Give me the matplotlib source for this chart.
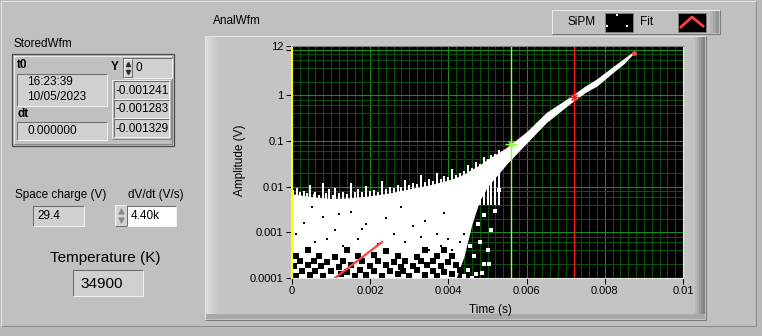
import matplotlib
matplotlib.use("Agg")
import matplotlib.pyplot as plt
from matplotlib.patches import Rectangle
from matplotlib.ticker import FixedLocator, LogLocator, MultipleLocator, NullFormatter

plt.rcParams["font.family"] = ["Liberation Sans", "DejaVu Sans"]
plt.rcParams["font.size"] = 8.5

W, H = 762, 336

# ---- values ----
x_ticks = [0, 0.002, 0.004, 0.006, 0.008, 0.01]
x_tick_labels = ["0", "0.002", "0.004", "0.006", "0.008", "0.01"]
y_ticks = [0.0001, 0.001, 0.01, 0.1, 1, 10, 12]
y_tick_labels = ["0.0001", "0.001", "0.01", "0.1", "1", "", "12"]

# envelope of the dense SiPM point cloud (time in s, amplitude in V)
cloud_t = [0, 0.0005, 0.001, 0.0015, 0.002, 0.0025, 0.003, 0.0035, 0.004, 0.0042,
           0.0044, 0.0046, 0.0048, 0.005, 0.0055, 0.006, 0.0065, 0.007, 0.0072,
           0.0075, 0.0078, 0.0082, 0.0085, 0.00872]
cloud_lo = [0.0001, 0.0001, 0.0001, 0.0001, 0.0001, 0.0001, 0.0001, 0.0001, 0.0001, 0.0001,
            0.0003, 0.0015, 0.005, 0.010, 0.032, 0.09, 0.25, 0.55, 0.75,
            1.15, 1.6, 3.1, 5.0, 8.0]
cloud_hi = [0.0070, 0.0060, 0.0055, 0.0057, 0.0063, 0.0073, 0.0090, 0.0108, 0.014, 0.016,
            0.019, 0.024, 0.030, 0.040, 0.072, 0.16, 0.42, 0.80, 1.05,
            1.6, 2.3, 4.2, 6.5, 8.9]

# vertical spikes sticking out of the top of the cloud
spike_t = [0.00002, 0.00012, 0.0002, 0.0003, 0.00038, 0.00045, 0.00055, 0.0006, 0.0007,
           0.0008, 0.00088, 0.00095, 0.00105, 0.0011, 0.0012, 0.0013, 0.0014, 0.0015,
           0.0016, 0.0017, 0.0018, 0.0019, 0.002, 0.0021, 0.0022, 0.0023, 0.0024,
           0.0025, 0.0026, 0.0027, 0.0028, 0.0029, 0.003, 0.0031, 0.0032, 0.0033,
           0.0034, 0.0035, 0.0036, 0.0037, 0.0038, 0.0039, 0.004, 0.0041, 0.0042,
           0.0043, 0.0044, 0.0045, 0.0046, 0.0047, 0.0048, 0.0049, 0.005, 0.0051,
           0.0052, 0.0053]
spike_top = [0.0085, 0.0095, 0.0075, 0.008, 0.0072, 0.011, 0.007, 0.0078, 0.0066,
             0.012, 0.0072, 0.0088, 0.0066, 0.0095, 0.0072, 0.0078, 0.007, 0.012,
             0.0076, 0.009, 0.0078, 0.0105, 0.008, 0.0083, 0.0076, 0.013, 0.0088,
             0.0098, 0.0092, 0.011, 0.0096, 0.014, 0.0108, 0.012, 0.0115, 0.018,
             0.0128, 0.015, 0.0135, 0.020, 0.0148, 0.017, 0.016, 0.024, 0.018,
             0.020, 0.022, 0.030, 0.026, 0.034, 0.031, 0.045, 0.040, 0.050,
             0.052, 0.065]

# gaps in the cloud near the bottom (large) and in the middle (small)
hole_t = [0.0001, 0.00045, 0.0008, 0.00125, 0.0016, 0.0019, 0.0023, 0.0027, 0.003, 0.0034,
          0.0037, 0.0041,
          0.00025, 0.0006, 0.001, 0.0014, 0.00175, 0.0021, 0.0025, 0.00285, 0.0032,
          0.0036, 0.0039, 0.0043,
          0.00005, 0.0004, 0.00075, 0.0012, 0.0015, 0.002, 0.0024, 0.0028, 0.0031,
          0.00345, 0.0038, 0.0042,
          0.0002, 0.00055, 0.0009, 0.0013, 0.0018, 0.0022, 0.0026, 0.0029, 0.0033,
          0.0036, 0.004,
          0.0001, 0.0007, 0.0011, 0.0017, 0.0021, 0.0027, 0.0032, 0.0037, 0.0041,
          0.0004, 0.0014, 0.0024, 0.0034, 0.0039]
hole_amp = [0.00011, 0.000115, 0.00011, 0.00012, 0.00011, 0.000115, 0.00011, 0.00012,
            0.00011, 0.000115, 0.00011, 0.00012,
            0.00014, 0.000145, 0.00014, 0.000135, 0.00015, 0.00014, 0.000145, 0.00014,
            0.00015, 0.00014, 0.000135, 0.00015,
            0.00018, 0.00019, 0.00018, 0.000175, 0.00019, 0.00018, 0.00019, 0.000175,
            0.00018, 0.00019, 0.00018, 0.00019,
            0.00023, 0.00024, 0.00022, 0.00023, 0.00024, 0.00023, 0.00022, 0.00024,
            0.00023, 0.00024, 0.00022,
            0.0003, 0.00031, 0.00029, 0.0003, 0.00032, 0.0003, 0.00029, 0.00031, 0.0003,
            0.0004, 0.00042, 0.00039, 0.00041, 0.0004]
speck_t = [0.0001, 0.0003, 0.0006, 0.0008, 0.0011, 0.0013, 0.0015, 0.0017, 0.0019,
           0.0022, 0.0024, 0.0026, 0.0029, 0.0031, 0.0033, 0.0035, 0.0037, 0.0038,
           0.0040, 0.0041, 0.0043, 0.0044, 0.0005, 0.0009, 0.0012, 0.0018, 0.0028,
           0.0034, 0.0039]
speck_amp = [0.0009, 0.0016, 0.0006, 0.0022, 0.0011, 0.0005, 0.0028, 0.0007, 0.0015,
             0.00055, 0.0021, 0.0009, 0.0006, 0.0014, 0.0008, 0.0004, 0.0009, 0.0005,
             0.0007, 0.0004, 0.0006, 0.0009, 0.0035, 0.0007, 0.0025, 0.0012, 0.0035,
             0.0018, 0.0026]

# isolated points right of the cloud
stray_t = [0.0045, 0.00465, 0.0047, 0.0048, 0.0049, 0.0051, 0.0050, 0.0052, 0.0053,
           0.00475, 0.00455, 0.0046, 0.00485, 0.0044, 0.0049, 0.00505]
stray_amp = [0.00015, 0.0003, 0.00012, 0.0006, 0.0002, 0.0011, 0.0004, 0.003, 0.0085,
             0.0015, 0.0005, 0.0001, 0.00013, 0.00011, 0.0024, 0.0002]

# exponential fit (straight on the log axis)
fit_t = [0.0011, 0.0023, 0.00874]
fit_amp = [0.0001, 0.00061, 8.4]

# graph cursors
cursor_t = [0.00559, 0.00721]
cursor_amp = [0.086, 0.94]
cursor_colors = ["#8cff4a", "#ff1a1a"]

stored_time = ["16:23:39", "10/05/2023"]
stored_dt = "0.000000"
stored_index = "0"
stored_y = ["-0.001241", "-0.001283", "-0.001329"]
space_charge = "29.4"
dvdt = "4.40k"
temperature = "34900"

PANEL = "#c0c0c0"
INNER = "#c4c4c4"
BOX = "#d0d0d0"
MAJOR = "#1c8c1c"
MINOR = "#0c4e0c"
FIT_RED = "#ff4040"


def bevel(ax, x0, y0, x1, y1, face, raised=True, light="#f2f2f2", dark="#6e6e6e", lw=0.75):
    ax.add_patch(Rectangle((x0, y0), x1 - x0, y1 - y0, facecolor=face, edgecolor="none"))
    tl, br = (light, dark) if raised else (dark, light)
    ax.plot([x0, x0, x1], [y1, y0, y0], color=tl, lw=lw, solid_capstyle="butt")
    ax.plot([x0, x1, x1], [y1, y1, y0], color=br, lw=lw, solid_capstyle="butt")


fig = plt.figure(figsize=(W / 100, H / 100), dpi=100)
fig.patch.set_facecolor("#b9b9b9")

bg = fig.add_axes([0, 0, 1, 1])
bg.set_xlim(0, W)
bg.set_ylim(H, 0)
bg.axis("off")

# front panel
bevel(bg, 1, 1, 756, 326, PANEL, light="#e6e6e6", dark="#8a8a8a")

# ---- StoredWfm cluster ----
bg.text(13, 44, "StoredWfm", va="center")
bg.add_patch(Rectangle((12, 54), 162, 92, facecolor=PANEL, edgecolor="#4a4a4a", lw=0.9))
bevel(bg, 14, 56, 172, 144, PANEL, light="#ececec", dark="#8a8a8a")
bg.text(17, 65, "t0", weight="bold", va="center")
bevel(bg, 17, 74, 107, 106, BOX, raised=False)
bg.text(27, 82, stored_time[0], va="center")
bg.text(27, 97, stored_time[1], va="center")
bg.text(17, 114, "dt", weight="bold", va="center")
bevel(bg, 17, 122, 107, 140, BOX, raised=False)
bg.text(27, 131, stored_dt, va="center")
bg.text(111, 67, "Y", weight="bold", va="center")
bevel(bg, 123, 58, 172, 78, BOX, raised=False)
bevel(bg, 124, 59, 132, 77, "#d8d8d8")
bg.plot([128], [64], marker="^", ms=3, color="#303030")
bg.plot([128], [72], marker="v", ms=3, color="#303030")
bg.text(136, 68, stored_index, va="center")
bevel(bg, 112, 80, 171, 139, PANEL, light="#ececec", dark="#8a8a8a")
for i, val in enumerate(stored_y):
    y0 = 81 + i * 19
    bevel(bg, 114, y0, 169, y0 + 18, BOX, raised=False)
    bg.text(116, y0 + 9.5, val, va="center")

# ---- numeric controls ----
bg.text(61, 195, "Space charge (V)", ha="center", va="center")
bevel(bg, 33, 206, 84, 226, BOX, raised=False)
bg.text(37, 216, space_charge, va="center")
bg.text(156, 195, "dV/dt (V/s)", ha="center", va="center")
bevel(bg, 115, 205, 127, 226, "#d4d4d4")
bg.plot([121], [211], marker="^", ms=3.5, color="#8a8a8a")
bg.plot([121], [220], marker="v", ms=3.5, color="#8a8a8a")
bevel(bg, 127, 206, 176, 226, "white", raised=False)
bg.text(131, 216, dvdt, va="center")
bg.text(105, 258, "Temperature (K)", ha="center", va="center", fontsize=11)
bevel(bg, 73, 270, 143, 296, BOX, raised=False)
bg.text(80, 284, temperature, va="center", fontsize=11)

# ---- graph frame ----
bg.text(213, 21, "AnalWfm", va="center")
bevel(bg, 205, 36, 706, 320, INNER, light="#e4e4e4", dark="#7a7a7a")
for k, c in enumerate(["#dadada", "#d6d6d6", "#d2d2d2", "#cecece", "#cacaca", "#c7c7c7"]):
    bg.add_patch(Rectangle((206 + 2 * k, 37), 2, 282, facecolor=c, edgecolor="none"))
for k, c in enumerate(["#b8b8b8", "#aaaaaa", "#9c9c9c", "#8e8e8e", "#828282"]):
    bg.add_patch(Rectangle((695 + 2 * k, 37), 2, 282, facecolor=c, edgecolor="none"))
bg.add_patch(Rectangle((206, 314), 499, 5, facecolor="#a8a8a8", edgecolor="none"))
bg.text(240, 160, "Amplitude (V)", rotation=90, ha="center", va="center")
bg.text(490, 310, "Time (s)", ha="center", va="center")

# ---- legend ----
bevel(bg, 552, 10, 720, 34, PANEL, light="#ececec", dark="#7a7a7a")
for k, c in enumerate(["#b4b4b4", "#a4a4a4", "#949494"]):
    bg.add_patch(Rectangle((710 + 3 * k, 11), 3, 22, facecolor=c, edgecolor="none"))
bg.text(567, 22, "SiPM", va="center")
bg.add_patch(Rectangle((605, 13), 28, 19, facecolor="black", edgecolor="#808080", lw=0.7))
bg.plot([617, 607, 627], [15, 26, 26], "s", ms=1.6, color="white", mew=0)
bg.text(640, 22, "Fit", va="center")
bg.add_patch(Rectangle((678, 13), 28, 19, facecolor="black", edgecolor="#808080", lw=0.7))
bg.plot([681, 692, 703], [27, 17, 26], color=FIT_RED, lw=2)

# ---- the graph itself ----
ax = fig.add_axes([292 / W, 1 - 278 / H, (683 - 292) / W, (278 - 46) / H])
ax.set_facecolor("black")
ax.set_xlim(0, 0.01)
ax.set_yscale("log")
ax.set_ylim(0.0001, 12)
ax.xaxis.set_major_locator(FixedLocator(x_ticks))
ax.set_xticklabels(x_tick_labels)
ax.yaxis.set_major_locator(FixedLocator(y_ticks))
ax.set_yticklabels(y_tick_labels)
ax.xaxis.set_minor_locator(MultipleLocator(0.0002))
ax.yaxis.set_minor_locator(LogLocator(base=10, subs=(2, 4, 6, 8), numticks=20))
ax.yaxis.set_minor_formatter(NullFormatter())
ax.tick_params(which="major", length=4, width=0.75, pad=2, labelsize=8, colors="black")
ax.tick_params(which="minor", length=0)
ax.set_axisbelow(True)
ax.grid(True, which="minor", color=MINOR, lw=0.75)
ax.grid(True, which="major", color=MAJOR, lw=0.75)
ax.spines["left"].set_color("#ffff00")
ax.spines["left"].set_linewidth(1.5)
ax.spines["top"].set_color("#808080")
ax.spines["bottom"].set_color("#e8e8e8")
ax.spines["right"].set_color("#e8e8e8")
for s in ax.spines.values():
    s.set_zorder(8)

ax.plot(fit_t, fit_amp, color=FIT_RED, lw=1.0, zorder=2.5)
ax.fill_between(cloud_t, cloud_lo, cloud_hi, color="white", lw=0, antialiased=False, zorder=3)
ax.vlines(spike_t, [0.004] * len(spike_t), spike_top, color="white", lw=1.5, zorder=3)
ax.plot(hole_t, hole_amp, "s", ms=4.0, mew=0, color="black", zorder=4)
ax.plot(speck_t, speck_amp, "s", ms=2.0, mew=0, color="black", zorder=4)
ax.plot(stray_t, stray_amp, "s", ms=2.4, mew=0, color="white", zorder=4)
ax.plot(fit_t[:2], fit_amp[:2], color=FIT_RED, lw=1.6, zorder=5)
ax.plot(fit_t[-1:], fit_amp[-1:], "o", ms=2.5, color=FIT_RED, zorder=5)

for ct, ca, col in zip(cursor_t, cursor_amp, cursor_colors):
    ax.axvline(ct, color=col, lw=1, zorder=6)
    ax.plot([ct], [ca], marker="x", ms=5, mew=1, color=col, zorder=7)
    ax.plot([ct], [ca], marker="+", ms=9, mew=1, color=col, zorder=7)

fig.savefig("out.png", dpi=100, facecolor=fig.get_facecolor())
